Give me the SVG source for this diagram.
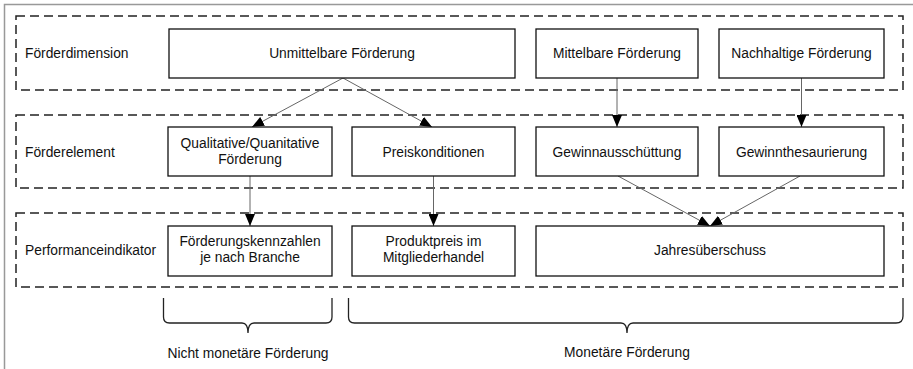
<svg xmlns="http://www.w3.org/2000/svg" width="913" height="369" viewBox="0 0 913 369">
<style>
text{font-family:"Liberation Sans",Arial,sans-serif;font-size:13.8px;fill:#111}
.c{text-anchor:middle}
.box{fill:#fff;stroke:#111;stroke-width:1.3}
.row{fill:none;stroke:#222;stroke-width:1.5;stroke-dasharray:9,5}
.ln{fill:none;stroke:#666;stroke-width:1}
.br{fill:none;stroke:#222;stroke-width:1.3}
</style>
<defs>
<marker id="ah" viewBox="0 0 12 10" refX="12" refY="5" markerWidth="12" markerHeight="10" markerUnits="userSpaceOnUse" orient="auto">
<path d="M0,0 L12,5 L0,10 Z" fill="#000"/>
</marker>
</defs>
<rect x="4.5" y="4.5" width="920" height="380" fill="#fff" stroke="#999" stroke-width="1.5"/>
<g id="rows">
<rect class="row" x="16" y="16" width="887" height="74"/>
<rect class="row" x="16" y="115" width="887" height="73"/>
<rect class="row" x="16" y="213" width="887" height="74"/>
<text x="25" y="58">Förderdimension</text>
<text x="25" y="157">Förderelement</text>
<text x="25" y="255">Performanceindikator</text>
</g>
<g id="connectors">
<line class="ln" x1="343" y1="78" x2="252" y2="127" marker-end="url(#ah)"/>
<line class="ln" x1="343" y1="78" x2="432" y2="127" marker-end="url(#ah)"/>
<line class="ln" x1="617" y1="78" x2="617" y2="127" marker-end="url(#ah)"/>
<line class="ln" x1="801.5" y1="78" x2="801.5" y2="127" marker-end="url(#ah)"/>
<line class="ln" x1="250" y1="176" x2="250" y2="226" marker-end="url(#ah)"/>
<line class="ln" x1="433.5" y1="176" x2="433.5" y2="226" marker-end="url(#ah)"/>
<line class="ln" x1="618" y1="176" x2="710" y2="226" marker-end="url(#ah)"/>
<line class="ln" x1="800" y1="176" x2="710" y2="226" marker-end="url(#ah)"/>
</g>
<g id="n1"><rect class="box" x="169" y="29" width="346" height="49"/><text class="c" x="342" y="58">Unmittelbare Förderung</text></g>
<g id="n2"><rect class="box" x="536" y="29" width="162" height="49"/><text class="c" x="617" y="58">Mittelbare Förderung</text></g>
<g id="n3"><rect class="box" x="719" y="29" width="165" height="49"/><text class="c" x="801.5" y="58">Nachhaltige Förderung</text></g>
<g id="n4"><rect class="box" x="168" y="127" width="164" height="49"/><text class="c" x="250" y="148">Qualitative/Quanitative</text><text class="c" x="250" y="164">Förderung</text></g>
<g id="n5"><rect class="box" x="352" y="127" width="163" height="49"/><text class="c" x="433.5" y="157">Preiskonditionen</text></g>
<g id="n6"><rect class="box" x="536" y="127" width="162" height="49"/><text class="c" x="617" y="157">Gewinnausschüttung</text></g>
<g id="n7"><rect class="box" x="719" y="127" width="165" height="49"/><text class="c" x="801.5" y="157">Gewinnthesaurierung</text></g>
<g id="n8"><rect class="box" x="168" y="226" width="164" height="50"/><text class="c" x="250" y="246">Förderungskennzahlen</text><text class="c" x="250" y="262">je nach Branche</text></g>
<g id="n9"><rect class="box" x="352" y="226" width="163" height="50"/><text class="c" x="433.5" y="246">Produktpreis im</text><text class="c" x="433.5" y="262">Mitgliederhandel</text></g>
<g id="n10"><rect class="box" x="536" y="226" width="348" height="50"/><text class="c" x="710" y="255">Jahresüberschuss</text></g>
<g id="braces">
<path class="br" d="M163.5,298 L163.5,317 Q163.5,323 169.5,323 L242,323 Q248,323 248,333 Q248,323 254,323 L326,323 Q332,323 332,317 L332,298"/>
<text class="c" x="248" y="358">Nicht monetäre Förderung</text>
<path class="br" d="M348.5,298 L348.5,317 Q348.5,323 354.5,323 L621,323 Q627,323 627,333 Q627,323 633,323 L896,323 Q903,323 903,316 L903,298"/>
<text class="c" x="627" y="357">Monetäre Förderung</text>
</g>
</svg>
